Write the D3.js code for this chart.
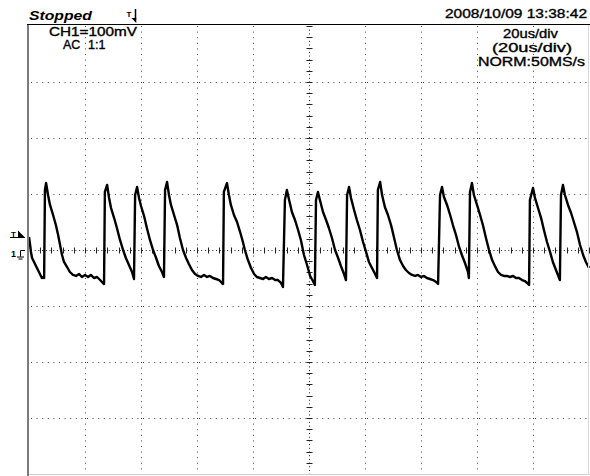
<!DOCTYPE html>
<html>
<head>
<meta charset="utf-8">
<script src="https://cdn.jsdelivr.net/npm/d3@7"></script>
<style>
html,body{margin:0;padding:0;background:#fff;}
svg{display:block;}
text{font-family:"Liberation Sans",Arial,sans-serif;fill:#000;}
</style>
</head>
<body>
<svg id="chart" width="590" height="476"></svg>
<script>
// ---- data (time in µs from left edge of screen, voltage in mV) ----
const timeUs = [0,0.4,0.7,1.1,1.8,2.5,3.2,3.9,4.6,5.0,5.4,5.7,6.1,
6.8,7.5,8.6,9.6,10.4,11.1,11.8,12.5,13.6,14.6,15.7,16.8,17.9,18.9,20.0,21.1,22.1,23.2,24.3,25.4,26.4,26.8,27.1,27.9,
28.6,29.3,30.4,31.4,32.5,33.6,34.6,35.7,36.8,37.5,37.9,38.6,
39.3,40.0,41.1,42.1,43.2,44.3,45.4,46.4,47.5,48.2,48.6,49.3,
50.0,50.7,51.8,52.9,53.9,55.0,56.1,57.1,58.2,59.3,60.4,61.4,62.5,63.6,64.6,65.7,66.8,67.9,68.9,69.3,69.6,70.7,
71.4,72.1,73.2,74.3,75.4,76.4,77.1,78.2,79.3,80.4,81.4,82.5,83.6,84.6,85.7,86.8,87.9,88.9,90.0,90.7,91.4,92.1,
92.9,93.9,95.0,96.1,97.1,98.2,99.3,100.4,101.4,102.1,102.5,103.2,
103.9,105.0,106.1,107.1,108.2,109.3,110.4,111.4,112.5,113.2,113.6,114.3,
115.0,116.1,117.1,118.2,119.3,120.4,121.4,122.5,123.6,124.3,124.6,125.4,
126.1,127.1,128.2,129.3,130.4,131.4,132.5,133.6,134.6,135.7,136.8,137.9,138.9,140.0,141.1,142.1,143.2,144.3,145.4,146.1,146.8,147.5,
148.2,149.3,150.4,151.4,152.5,153.6,154.6,155.7,156.8,157.1,157.5,158.2,
158.9,160.0,161.1,162.1,163.2,164.3,165.4,166.4,167.5,168.6,169.6,170.7,171.8,172.9,173.9,175.0,176.1,177.1,177.9,178.6,178.9,180.0,
180.7,181.8,182.9,183.9,185.0,186.1,187.1,188.2,188.9,189.6,190.0,190.7,
191.4,192.5,193.6,194.6,195.7,196.8,197.9,198.9,200.0];

const voltMv = [23.2,8.9,-3.6,-14.3,-21.4,-28.6,-35.7,-42.9,-50,-48.2,-50,107.1,119.6,
98.2,80.4,62.5,44.6,26.8,8.9,-8.9,-21.4,-30.4,-39.3,-44.6,-46.4,-42.9,-48.2,-44.6,-48.2,-44.6,-50,-48.2,-53.6,-58.9,-60.7,103.6,116.1,
92.9,75,57.1,39.3,17.9,0,-14.3,-26.8,-39.3,-51.8,98.2,112.5,
92.9,78.6,60.7,39.3,17.9,0,-14.3,-28.6,-39.3,-48.2,107.1,121.4,
98.2,80.4,62.5,44.6,21.4,0,-14.3,-25,-35.7,-42.9,-46.4,-48.2,-44.6,-48.2,-46.4,-50,-51.8,-53.6,-58.9,-60.7,103.6,119.6,
98.2,80.4,62.5,50,32.1,14.3,0,-17.9,-32.1,-42.9,-48.2,-50,-51.8,-48.2,-51.8,-50,-53.6,-53.6,-58.9,-66.1,89.3,107.1,
89.3,67.9,53.6,35.7,17.9,-8.9,-26.8,-46.4,-55.4,-62.5,89.3,103.6,
89.3,67.9,53.6,39.3,21.4,0,-14.3,-28.6,-42.9,-53.6,98.2,112.5,
92.9,71.4,53.6,35.7,14.3,-3.6,-21.4,-32.1,-42.9,-50,107.1,121.4,
98.2,76.8,62.5,44.6,21.4,0,-17.9,-28.6,-35.7,-41.1,-44.6,-46.4,-44.6,-48.2,-46.4,-50,-51.8,-53.6,-57.1,-60.7,98.2,112.5,
94.6,80.4,62.5,44.6,26.8,5.4,-8.9,-23.2,-39.3,-50,103.6,119.6,
98.2,80.4,62.5,44.6,21.4,0,-17.9,-28.6,-39.3,-44.6,-46.4,-46.4,-48.2,-46.4,-50,-50,-53.6,-55.4,-58.9,-62.5,89.3,110.7,
92.9,75,57.1,35.7,14.3,-3.6,-21.4,-35.7,-44.6,-53.6,98.2,116.1,
98.2,80.4,66.1,50,32.1,8.9,-8.9,-21.4,-32.1];

const timeTicks = [0,20,40,60,80,100,120,140,160,180,200];       // 20 us/div
const voltTicks = [-400,-300,-200,-100,0,100,200,300,400];       // 100 mV/div
const triggerTimeUs = 38;
const triggerLevelMv = 23;
const groundLevelMv = 0;

const statusLabel = "Stopped";
const dateLabel = "2008/10/09  13:38:42";
const chLabel = "CH1=100mV";
const couplingLabel = "AC";
const probeLabel = "1:1";
const tdivLabel = "20us/div";
const tdiv2Label = "(20us/div)";
const modeLabel = "NORM:50MS/s";

// ---- drawing ----
const svg = d3.select("#chart");
const x = d3.scaleLinear().domain([0,200]).range([29,589]);
const y = d3.scaleLinear().domain([-400,400]).range([474,26]);

const g = svg.append("g");

// dotted grid
const gridColor = "#444";
g.selectAll("line.vg").data(timeTicks.filter(t => t>0 && t<200 && t!==100)).join("line")
  .attr("x1", d => Math.round(x(d))+0.5).attr("x2", d => Math.round(x(d))+0.5)
  .attr("y1", y(400)).attr("y2", y(-400))
  .attr("stroke", gridColor).attr("stroke-width",1).attr("stroke-dasharray","1,4.6");
g.selectAll("line.hg").data(voltTicks.filter(v => v>-400 && v<400 && v!==0)).join("line")
  .attr("y1", d => Math.round(y(d))+0.5).attr("y2", d => Math.round(y(d))+0.5)
  .attr("x1", x(0)+2).attr("x2", x(200))
  .attr("stroke", gridColor).attr("stroke-width",1).attr("stroke-dasharray","1,4.6");

// center cross with minor ticks
const cx = Math.round(x(100))+0.5, cy = Math.round(y(0))+0.5;
g.append("line").attr("x1",cx).attr("x2",cx).attr("y1",y(400)).attr("y2",y(-400))
  .attr("stroke","#222").attr("stroke-dasharray","1,2.7");
g.append("line").attr("y1",cy).attr("y2",cy).attr("x1",x(0)+2).attr("x2",x(200))
  .attr("stroke","#222").attr("stroke-dasharray","1,2.7");
const minorT = d3.range(0,200.01,4).filter(t => t>0);
const minorV = d3.range(-400,400.01,20);
g.selectAll("line.mt").data(minorT).join("line")
  .attr("x1", d => Math.round(x(d))+0.5).attr("x2", d => Math.round(x(d))+0.5)
  .attr("y1", cy-3).attr("y2", cy+3).attr("stroke","#222");
g.selectAll("line.mv").data(minorV).join("line")
  .attr("y1", d => Math.round(y(d))+0.5).attr("y2", d => Math.round(y(d))+0.5)
  .attr("x1", cx-3).attr("x2", cx+3).attr("stroke","#222");

// borders
svg.append("line").attr("x1",x(0)-1).attr("x2",x(0)-1).attr("y1",24).attr("y2",476)
  .attr("stroke","#7a7a7a").attr("stroke-width",2);
svg.append("line").attr("x1",x(0)-2).attr("x2",590).attr("y1",24.5).attr("y2",24.5)
  .attr("stroke","#000").attr("stroke-width",1);
svg.append("line").attr("x1",x(0)).attr("x2",590).attr("y1",474.5).attr("y2",474.5)
  .attr("stroke","#cfcfcf").attr("stroke-width",1);
svg.append("line").attr("x1",588.5).attr("x2",588.5).attr("y1",25).attr("y2",475)
  .attr("stroke","#d8d8d8").attr("stroke-width",1);

// waveform
const pts = timeUs.map((t,i) => [t, voltMv[i]]);
const line = d3.line().x(d => x(d[0])).y(d => y(d[1]));
g.append("path").datum(pts).attr("d", line)
  .attr("fill","none").attr("stroke","#000").attr("stroke-width",2.4)
  .attr("stroke-linejoin","round");

// trigger level marker (left)
const ty = Math.round(y(triggerLevelMv))+0.5;
svg.append("text").text("T").attr("x",11).attr("y",ty-1)
  .attr("font-size",8).attr("font-weight","bold");
svg.append("path").attr("d",`M18,${ty-7}L25,${ty}L18,${ty}Z`).attr("fill","#000");
svg.append("line").attr("x1",10).attr("x2",25).attr("y1",ty).attr("y2",ty).attr("stroke","#000");

// ground marker (left)
const gy = Math.round(y(groundLevelMv))+0.5;
svg.append("text").text("1").attr("x",11).attr("y",gy+6)
  .attr("font-size",9).attr("font-weight","bold");
svg.append("path").attr("d",`M25,${gy}H20.5V${gy+6}M17,${gy+6.5}H24M18.5,${gy+8.5}H22.5`)
  .attr("fill","none").attr("stroke","#000").attr("stroke-width",1);

// trigger position marker (top)
const tx = Math.round(x(triggerTimeUs))+0.5;
svg.append("text").text("T").attr("x",tx-9).attr("y",17)
  .attr("font-size",8).attr("font-weight","bold");
svg.append("line").attr("x1",tx).attr("x2",tx).attr("y1",9).attr("y2",19).attr("stroke","#000").attr("stroke-width",1.5);
svg.append("path").attr("d",`M${tx-4},${18}L${tx+0.8},${18}L${tx+0.8},${23}Z`).attr("fill","#000");

// labels
function label(txt, xx, yy, len, opts={}) {
  const t = svg.append("text").text(txt).attr("x",xx).attr("y",yy)
    .attr("font-size", opts.size || 12.5)
    .attr("stroke","#000").attr("stroke-width", opts.bold ? 0 : 0.35);
  if (len) t.attr("textLength", len).attr("lengthAdjust","spacingAndGlyphs");
  if (opts.italic) t.attr("font-style","italic");
  if (opts.bold) t.attr("font-weight","bold");
  return t;
}
label(statusLabel, 29, 20, 63, {size:12, italic:true, bold:true});
label(dateLabel, 445, 18, 142);
label(chLabel, 49, 35.5, 88);
label(couplingLabel, 63, 48.5, null);
label(probeLabel, 88, 48.5, null);
label(tdivLabel, 503, 37.5, 55);
label(tdiv2Label, 492, 51.5, 80);
label(modeLabel, 478, 66, 107);
</script>
</body>
</html>
